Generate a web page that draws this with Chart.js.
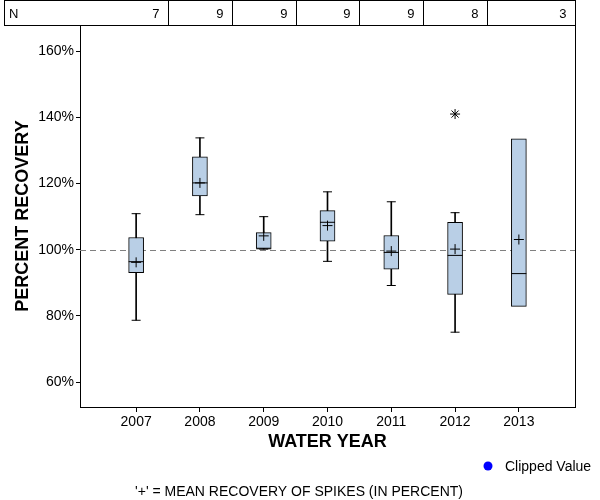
<!DOCTYPE html>
<html>
<head>
<meta charset="utf-8">
<script src="https://cdn.jsdelivr.net/npm/chart.js@4/dist/chart.umd.min.js"></script>
<style>
  html, body { margin: 0; padding: 0; background: #fff; }
  #wrap { width: 600px; height: 500px; }
</style>
</head>
<body>
<div id="wrap"><canvas id="boxChart" width="600" height="500"></canvas></div>
<script>
// Water years and sample counts
const years = [2007, 2008, 2009, 2010, 2011, 2012, 2013];
const nCounts = [7, 9, 9, 9, 9, 8, 3];

// Box plot statistics (percent recovery)
const whiskerLow  = [78.7, 110.6, 100.2, 96.5, 89.2, 75.1, null];
const q1          = [93.1, 116.3, 100.4, 102.6, 94.1, 86.5, 82.9];
const medians     = [96.4, 120.2, 100.3, 108.3, 99.2, 98.3, 92.8];
const q3          = [103.7, 128.1, 105.2, 111.8, 104.3, 108.3, 133.5];
const whiskerHigh = [110.9, 133.8, 110.0, 117.5, 114.5, 111.2, null];
const means       = [96.2, 120.2, 104.2, 107.3, 99.6, 100.2, 103.1];

// Outliers
const outlierYears = [2012];
const outlierValues = [141.0];

const yTicks = [60, 80, 100, 120, 140, 160];
const refValue = 100;

const FONT = '"Liberation Sans", Arial, sans-serif';

const boxData = years.map((yr, i) => ({ x: yr, y: [q1[i], q3[i]] }));
const whiskerData = years.map((yr, i) =>
    whiskerLow[i] === null ? null : ({ x: yr, y: [whiskerLow[i], whiskerHigh[i]] })
).filter(d => d);
const capData = [];
years.forEach((yr, i) => {
    if (whiskerLow[i] !== null) {
        capData.push({ x: yr, y: whiskerLow[i] });
        capData.push({ x: yr, y: whiskerHigh[i] });
    }
});
const medianData = years.map((yr, i) => ({ x: yr, y: medians[i] }));
const meanData = years.map((yr, i) => ({ x: yr, y: means[i] }));
const outlierData = outlierYears.map((yr, i) => ({ x: yr, y: outlierValues[i] }));

// reference line, right frame, N table, titles, legend, footnote
const extras = {
    id: 'extras',
    beforeDatasetsDraw(chart) {
        const { ctx, chartArea } = chart;
        const y = chart.scales.y.getPixelForValue(refValue);
        ctx.save();
        ctx.strokeStyle = '#808080';
        ctx.lineWidth = 1;
        ctx.setLineDash([6, 4]);
        ctx.beginPath();
        ctx.moveTo(chartArea.left, Math.round(y) + 0.5);
        ctx.lineTo(chartArea.right, Math.round(y) + 0.5);
        ctx.stroke();
        ctx.restore();
    },
    afterDraw(chart) {
        const { ctx, chartArea } = chart;
        const xs = chart.scales.x;
        ctx.save();
        ctx.strokeStyle = '#000';
        ctx.lineWidth = 1;

        // right frame
        ctx.beginPath();
        ctx.moveTo(Math.round(chartArea.right) + 0.5, chartArea.top);
        ctx.lineTo(Math.round(chartArea.right) + 0.5, chartArea.bottom);
        ctx.stroke();

        // N table
        const tTop = 0.5, tBot = 25.5, tLeft = 4.5, tRight = Math.round(chartArea.right) + 0.5;
        ctx.strokeRect(tLeft, tTop, tRight - tLeft, tBot - tTop);
        const edges = [tLeft];
        for (let i = 0; i < years.length - 1; i++) {
            const px = Math.round(xs.getPixelForValue(years[i] + 0.5)) + 0.5;
            edges.push(px);
            ctx.beginPath();
            ctx.moveTo(px, tTop);
            ctx.lineTo(px, tBot);
            ctx.stroke();
        }
        edges.push(tRight);
        ctx.fillStyle = '#000';
        ctx.font = '13px ' + FONT;
        ctx.textBaseline = 'middle';
        ctx.textAlign = 'left';
        ctx.fillText('N', 9, 14);
        ctx.textAlign = 'right';
        nCounts.forEach((n, i) => {
            ctx.fillText(String(n), edges[i + 1] - 9, 14);
        });

        // axis titles
        ctx.font = 'bold 18px ' + FONT;
        ctx.textAlign = 'center';
        ctx.fillText('WATER YEAR', (chartArea.left + chartArea.right) / 2, 442);
        ctx.save();
        ctx.translate(23, (chartArea.top + chartArea.bottom) / 2);
        ctx.rotate(-Math.PI / 2);
        ctx.fillText('PERCENT RECOVERY', 0, 0);
        ctx.restore();

        // legend
        ctx.fillStyle = '#0000ff';
        ctx.beginPath();
        ctx.arc(488, 466, 4.5, 0, Math.PI * 2);
        ctx.fill();
        ctx.fillStyle = '#000';
        ctx.font = '14px ' + FONT;
        ctx.textAlign = 'left';
        ctx.fillText('Clipped Value', 505, 467);

        // footnote
        ctx.textAlign = 'center';
        ctx.fillText("'+' = MEAN RECOVERY OF SPIKES (IN PERCENT)", 299, 492);
        ctx.restore();
    }
};

new Chart(document.getElementById('boxChart'), {
    type: 'bar',
    data: {
        datasets: [
            {
                label: 'Whiskers',
                data: whiskerData,
                backgroundColor: '#000',
                borderWidth: 0,
                barThickness: 1,
                grouped: false,
                order: 5
            },
            {
                label: 'Box',
                data: boxData,
                backgroundColor: '#b9cfe6',
                borderColor: '#000',
                borderWidth: 1,
                borderSkipped: false,
                barThickness: 15,
                grouped: false,
                order: 4
            },
            {
                type: 'line',
                label: 'Caps',
                data: capData,
                showLine: false,
                pointStyle: 'line',
                pointRadius: 4.5,
                borderColor: '#000',
                borderWidth: 1,
                order: 3
            },
            {
                type: 'line',
                label: 'Median',
                data: medianData,
                showLine: false,
                pointStyle: 'line',
                pointRadius: 7.5,
                borderColor: '#000',
                borderWidth: 1,
                order: 2
            },
            {
                type: 'line',
                label: 'Mean',
                data: meanData,
                showLine: false,
                pointStyle: 'cross',
                pointRadius: 5,
                borderColor: '#000',
                borderWidth: 1,
                order: 1
            },
            {
                type: 'line',
                label: 'Outlier',
                data: outlierData,
                showLine: false,
                pointStyle: 'star',
                pointRadius: 5,
                borderColor: '#000',
                borderWidth: 1,
                order: 1
            }
        ]
    },
    options: {
        responsive: false,
        animation: false,
        events: [],
        layout: { padding: { top: 25, right: 25, left: 0, bottom: 0 } },
        plugins: {
            legend: { display: false },
            tooltip: { enabled: false }
        },
        scales: {
            x: {
                type: 'linear',
                offset: false,
                min: 2006.12,
                max: 2013.88,
                afterBuildTicks: scale => { scale.ticks = years.map(v => ({ value: v })); },
                afterFit: scale => { scale.height = 93; },
                grid: { offset: false, drawOnChartArea: false, drawTicks: true, tickLength: 5, color: '#000' },
                border: { display: true, color: '#000', width: 1 },
                ticks: {
                    color: '#000',
                    font: { family: FONT, size: 14 },
                    padding: 2,
                    maxRotation: 0,
                    callback: v => String(v)
                }
            },
            y: {
                min: 52.5,
                max: 167.9,
                afterBuildTicks: scale => { scale.ticks = yTicks.map(v => ({ value: v })); },
                afterFit: scale => { scale.width = 80; },
                grid: { drawOnChartArea: false, drawTicks: true, tickLength: 4, color: '#000' },
                border: { display: true, color: '#000', width: 1 },
                ticks: {
                    color: '#000',
                    font: { family: FONT, size: 14 },
                    padding: 2,
                    callback: v => v + '%'
                }
            }
        }
    },
    plugins: [extras]
});
</script>
</body>
</html>
